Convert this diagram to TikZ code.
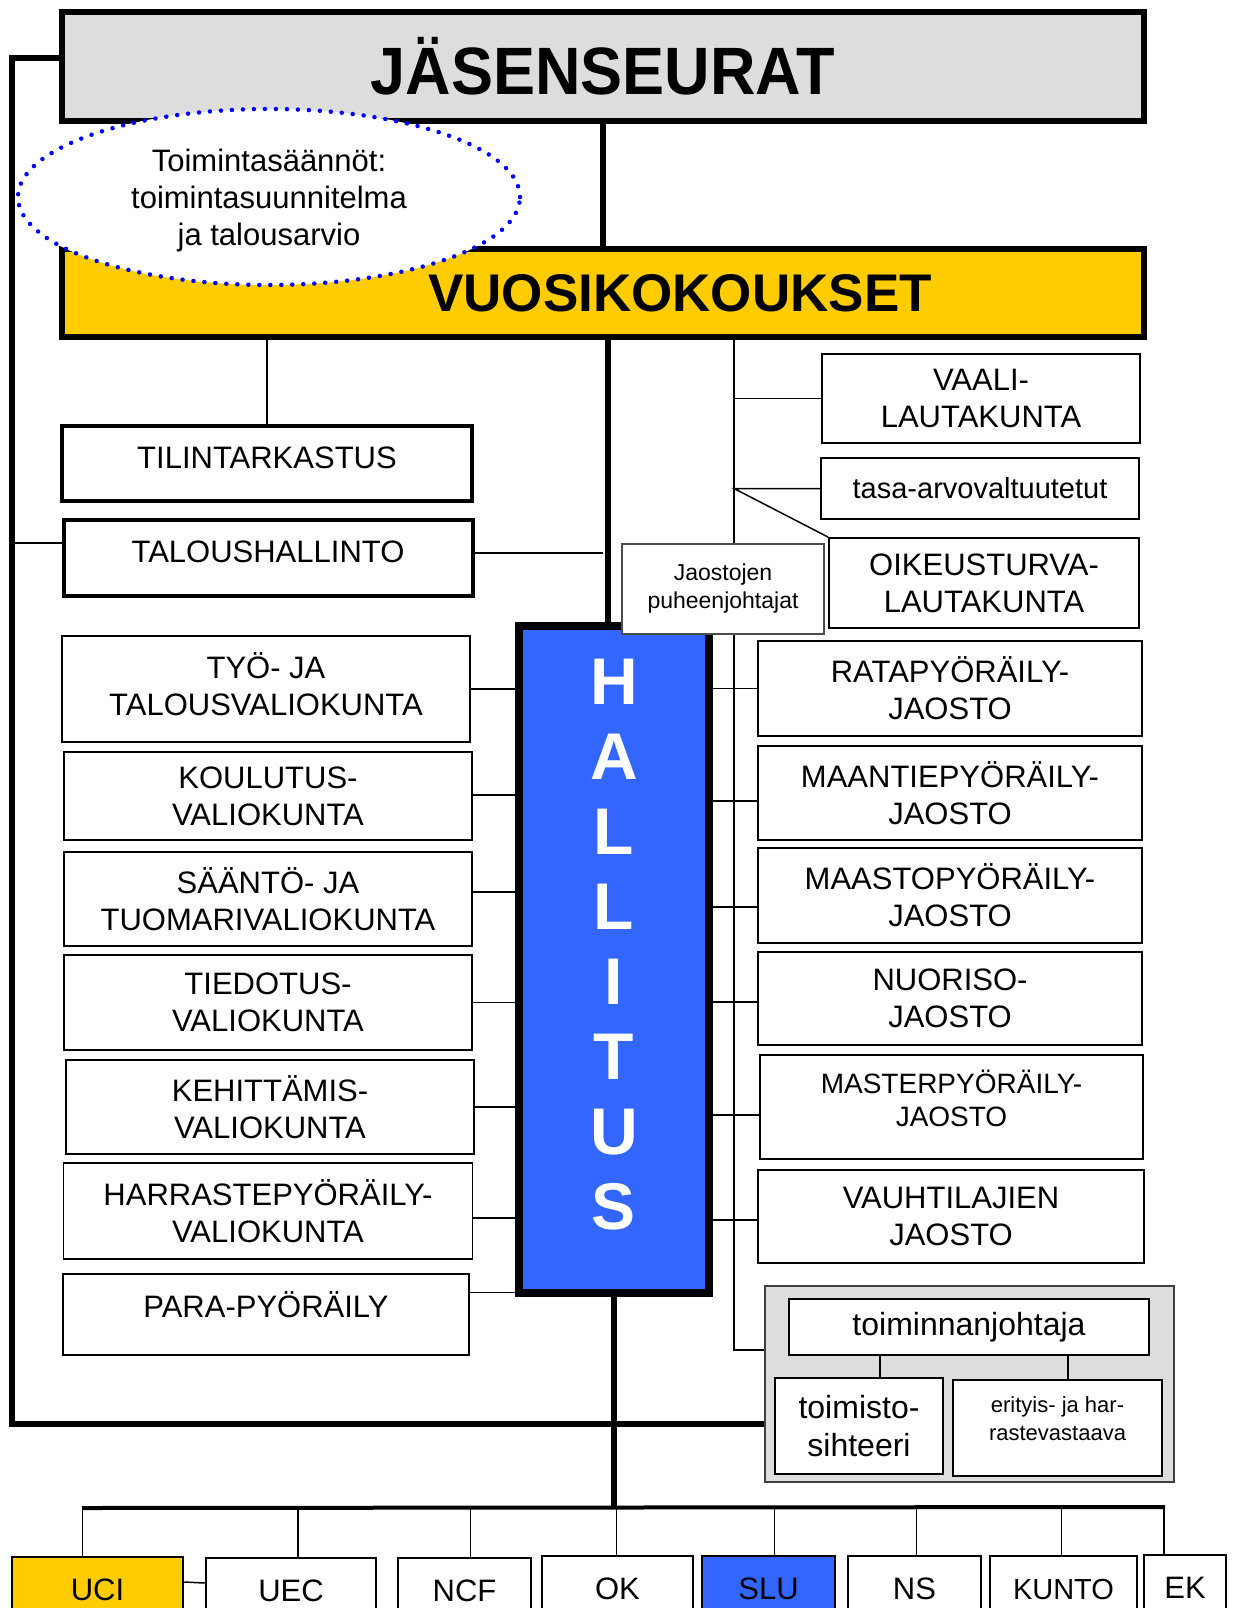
\documentclass[tikz,border=0pt]{standalone}
\usepackage{fontspec}
\setmainfont{Liberation Sans}
\newfontfamily\narrowfont[FakeStretch=0.94]{Liberation Sans}
\usetikzlibrary{shapes.geometric}
\definecolor{seurgray}{HTML}{DDDDDD}
\definecolor{kokyellow}{HTML}{FFCC00}
\definecolor{hallblue}{HTML}{3366FF}
\newcommand{\fs}[2]{\fontsize{#1}{#2}\selectfont}

\begin{document}
\begin{tikzpicture}[x=1pt,y=-1pt,
  box/.style={draw,line width=1.8pt,fill=white,align=center,inner sep=0pt,font=\fs{31}{37}},
  bigbox/.style={draw,line width=5.5pt,inner sep=0pt},
  heavy/.style={line width=6.5pt},
  conn/.style={line width=1.5pt},
  hl/.style={text=white,font=\fs{66}{70}\bfseries,inner sep=0pt}]
        \useasboundingbox (0,0) rectangle (1234,1608);
        \node[bigbox,fill=seurgray,minimum width=1082,minimum height=109,font=\narrowfont\fs{67}{70}\bfseries] (J) at (603,66.5) {JÄSENSEURAT};%members
        \node[bigbox,fill=kokyellow,minimum width=1082,minimum height=88,
          label={[xshift=77pt,font=\fs{53}{56}\bfseries]center:VUOSIKOKOUKSET}] (V) at (603,293) {};%meetings
        \node[box,line width=4pt,minimum width=410,minimum height=75,text depth=12pt] (T1) at (267,463.5) {TILINTARKASTUS};
        \node[box,line width=4pt,minimum width=409,minimum height=76,text depth=12pt] (T2) at (268,558) {TALOUSHALLINTO};
        % valiokunnat
        \node[box,minimum width=408,minimum height=106,text depth=10pt] (L1) at (266,689) {TYÖ- JA\\TALOUSVALIOKUNTA};
        \node[box,minimum width=408,minimum height=88] (L2) at (268,796) {KOULUTUS-\\VALIOKUNTA};
        \node[box,minimum width=408,minimum height=94] (L3) at (268,899) {SÄÄNTÖ- JA\\TUOMARIVALIOKUNTA};
        \node[box,minimum width=408,minimum height=95] (L4) at (268,1002.5) {TIEDOTUS-\\VALIOKUNTA};
        \node[box,minimum width=408,minimum height=94] (L5) at (270,1107) {KEHITTÄMIS-\\VALIOKUNTA};
        \node[box,minimum width=409,minimum height=96] (L6) at (268,1211) {HARRASTEPYÖRÄILY-\\VALIOKUNTA};
        \node[box,minimum width=406,minimum height=81,text depth=20pt] (L7) at (266,1314.5) {PARA-PYÖRÄILY};
        % hallitus
        \node[draw,line width=7.5pt,fill=hallblue,minimum width=190,minimum height=667,inner sep=0pt] (H) at (614,959.5) {};
        \foreach \c [count=\i from 0] in {H,A,L,L,I,T,U,S}
          \node[hl] (h\i) at (614,{682+75*\i}) {\c};
        % jaostot
        \node[box,minimum width=384,minimum height=95] (R1) at (950,688.5) {RATAPYÖRÄILY-\\JAOSTO};
        \node[box,minimum width=384,minimum height=94] (R2) at (950,793) {MAANTIEPYÖRÄILY-\\JAOSTO};
        \node[box,minimum width=384,minimum height=95] (R3) at (950,895.5) {MAASTOPYÖRÄILY-\\JAOSTO};
        \node[box,minimum width=384,minimum height=93] (R4) at (950,998.5) {NUORISO-\\JAOSTO};
        \node[box,minimum width=383,minimum height=104,text depth=18pt,font=\fs{28}{33}] (R5) at (951.5,1107) {MASTERPYÖRÄILY-\\JAOSTO};
        \node[box,minimum width=386,minimum height=93] (R6) at (951,1216.5) {VAUHTILAJIEN\\JAOSTO};
        % lautakunnat
        \node[box,minimum width=318,minimum height=89] (VA) at (981,398.5) {VAALI-\\LAUTAKUNTA};
        \node[box,minimum width=318,minimum height=61,font=\fs{29}{34}] (TA) at (980,488.5) {tasa-arvovaltuutetut};
        \node[box,minimum width=310,minimum height=90] (OL) at (984,583) {OIKEUSTURVA-\\LAUTAKUNTA};
        % toimisto
        \node[draw=black!75,line width=2pt,fill=seurgray,minimum width=409,minimum height=196] (G) at (969.5,1384) {};
        \node[box,minimum width=360,minimum height=56,font=\fs{32}{38}] (TJ) at (969,1327) {toiminnanjohtaja};
        \node[box,minimum width=168,minimum height=96,font=\fs{32}{38}] (TS) at (859,1426) {toimisto-\\sihteeri};
        \node[box,minimum width=209,minimum height=96,text depth=18pt,font=\fs{22}{28}] (ER) at (1057.5,1428) {erityis- ja har-\\rastevastaava};
        % kattojarjestot
        \node[box,line width=2.5pt,fill=kokyellow,minimum width=171,minimum height=66] (B1) at (97.5,1590) {UCI};
        \node[box,line width=2.5pt,minimum width=170,minimum height=66] (B2) at (291,1591) {UEC};
        \node[box,line width=2.5pt,minimum width=133,minimum height=66] (B3) at (464.5,1591) {NCF};
        \node[box,line width=2.5pt,minimum width=151,minimum height=66] (B4) at (617.5,1589) {OK};
        \node[box,line width=2.5pt,fill=hallblue,minimum width=133,minimum height=66] (B5) at (768.5,1589) {SLU};
        \node[box,line width=2.5pt,minimum width=133,minimum height=66] (B6) at (914.5,1589) {NS};
        \node[box,line width=2.5pt,minimum width=147,minimum height=66,font=\fs{29}{34}] (B7) at (1063.5,1589) {KUNTO};
        \node[box,line width=2.5pt,minimum width=82,minimum height=66] (B8) at (1185,1588) {EK};
        \coordinate (LB) at (12,1424);%frame corner
        \coordinate (vr) at (734,1350);%right line
        \coordinate (bl) at (82,1508);%bar
        \coordinate (br) at (1165,1507);
        % heavy lines
        \draw[heavy] ([yshift=8.5pt]J.west) -| (LB) -- (LB -| G.west);
        \draw[heavy] (J.south) -- (V.north);
        \draw[heavy] ([xshift=-6pt]H.north |- V.south) -- ([xshift=-6pt]H.north);
        \draw[heavy] (H.south) -- (H.south |- bl);
        \draw[line width=4pt] (bl) -- (br);
        % thin lines
        \draw[conn] (V.south -| T1.north) -- (T1.north);
        \draw[conn] ([yshift=15pt]T2.west) -- ([yshift=15pt]T2.west -| LB);
        \draw[conn] ([yshift=5pt]T2.east) -- ([yshift=5pt]T2.east -| J.south);
        \foreach \i/\dy in {1/0,2/1,3/7,4/0,5/0,6/-7}
          \draw[conn] ([yshift=\dy pt]L\i.east) -- ([yshift=\dy pt]L\i.east -| H.west);
        \draw[conn] ([yshift=22pt]L7.east) -- ([yshift=22pt]L7.east -| H.west);
        \foreach \i/\dy in {1/0,2/-8,3/-11.5,4/-3.5,5/-8,6/-3.5}
          \draw[conn] ([yshift=\dy pt]R\i.west) -- ([yshift=\dy pt]R\i.west -| H.east);
        \draw[conn] (V.south -| vr) -- (vr) -- (vr -| G.west);
        \draw[conn] (VA.west) -- (VA.west -| vr);
        \draw[conn] (TA.west) -- (TA.west -| vr) -- (OL.north west);
        \draw[conn] ([xshift=21pt]TS.north) -- ([xshift=21pt]TS.north |- TJ.south);
        \draw[conn] ([xshift=10.5pt]ER.north) -- ([xshift=10.5pt]ER.north |- TJ.south);
        \foreach \b/\dx in {B1/-15,B2/7,B3/6,B4/-1,B5/6,B6/2,B7/-2,B8/-21}
          \draw[conn] ([xshift=\dx pt]\b.north) -- ([xshift=\dx pt]\b.north |- bl);
        \draw[conn] ([yshift=8pt]B1.east) -- ([yshift=8pt]B2.west);
        % on top
        \node[box,draw=black!70,line width=1.5pt,minimum width=202,minimum height=90,font=\fs{23}{28}] (JP) at (723,589) {Jaostojen\\puheenjohtajat};
        \node[ellipse,draw=blue,fill=white,line width=4.5pt,dash pattern=on 0pt off 11pt,line cap=round,
          minimum width=502,minimum height=176,inner sep=0pt,align=center,text depth=-20pt,font=\fs{31}{37}] (E) at (269,197) {Toimintasäännöt:\\toimintasuunnitelma\\ja talousarvio};
\end{tikzpicture}
\end{document}
